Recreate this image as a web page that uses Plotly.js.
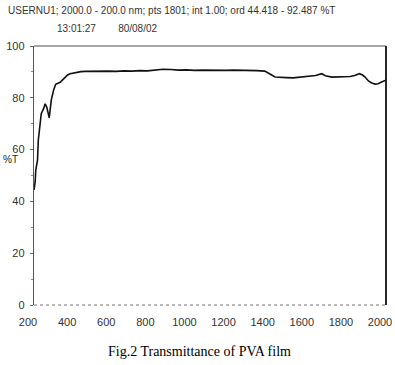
<!DOCTYPE html>
<html>
<head>
<meta charset="utf-8">
<script src="https://cdn.plot.ly/plotly-3.0.1.min.js"></script>
<style>
html,body{margin:0;padding:0;background:#fff;}
#chart{width:395px;height:365px;}
</style>
</head>
<body>
<div id="chart"></div>
<script>
var wavelength = [200,206,209,214,218,222,228,237,249,257,265,272,278,283,288,300,311,322,334,345,359,372,385,400,419,440,461,500,540,580,620,660,700,740,780,820,860,900,940,980,1020,1060,1100,1140,1180,1220,1260,1300,1340,1380,1400,1420,1433,1460,1490,1525,1560,1600,1640,1671,1690,1723,1760,1790,1816,1840,1864,1880,1893,1910,1927,1945,1960,1980,1995,2000];
var transmittance = [44.4,47.5,52,54,56,63.6,68.7,73.9,75.8,77.7,76.4,74,72.3,75.5,79,82.9,85.2,85.6,86,86.8,88,88.8,89.3,89.6,89.9,90.1,90.2,90.3,90.2,90.3,90.2,90.4,90.3,90.5,90.4,90.7,91.0,90.9,90.7,90.8,90.6,90.7,90.6,90.7,90.6,90.7,90.7,90.6,90.5,90.3,89.6,88.6,88.0,87.8,87.8,87.7,88.0,88.3,88.6,89.3,88.5,88.0,88.0,88.1,88.2,88.6,89.3,88.8,88.0,86.5,85.7,85.3,85.4,86.2,86.7,86.8];
var xTicks = [200,400,600,800,1000,1200,1400,1600,1800,2000];
var yTicks = [0,20,40,60,80,100];
var headerLine1 = "USERNU1; 2000.0 - 200.0 nm; pts 1801; int 1.00; ord 44.418 - 92.487 %T";
var headerLine2 = "13:01:27&nbsp;&nbsp;&nbsp;&nbsp;&nbsp;&nbsp;&nbsp;&nbsp;80/08/02";
var yLabel = "%T";
var caption = "Fig.2 Transmittance of PVA film";

var tickFont = {family: "'Liberation Sans Narrow', 'Liberation Sans', Arial, sans-serif", size: 11, color: '#333'};

var trace = {
  x: wavelength, y: transmittance, type: 'scatter', mode: 'lines',
  line: {color: '#111', width: 1.6}, hoverinfo: 'skip'
};

var layout = {
  width: 395, height: 365,
  margin: {l: 33.5, r: 9, t: 45.5, b: 60},
  paper_bgcolor: '#fff', plot_bgcolor: '#fff',
  showlegend: false,
  xaxis: {
    range: [200, 2000], tickvals: xTicks, ticktext: xTicks.map(String),
    showgrid: false, zeroline: false, showline: false,
    ticks: '', tickfont: tickFont, ticklabelshift: -6, ticklabelstandoff: 9
  },
  yaxis: {
    range: [0, 100], tickvals: yTicks, ticktext: yTicks.map(String),
    showgrid: false, zeroline: false, showline: true, linecolor: '#555', linewidth: 1.2,
    ticks: 'outside', ticklen: 3, tickcolor: '#666', tickwidth: 1,
    minor: {dtick: 10, ticks: 'outside', ticklen: 2, tickcolor: '#888'},
    tickfont: tickFont, ticklabelstandoff: 3
  },
  shapes: [
    {type: 'line', xref: 'paper', yref: 'paper', x0: 0, x1: 1, y0: 1, y1: 1, line: {color: '#888', width: 1.3}},
    {type: 'line', xref: 'paper', yref: 'paper', x0: 1, x1: 1, y0: 0, y1: 1, line: {color: '#111', width: 1.8}},
    {type: 'line', xref: 'paper', yref: 'paper', x0: 0, x1: 1, y0: 0, y1: 0, line: {color: '#777', width: 1.2, dash: 'dot'}}
  ],
  annotations: [
    {text: headerLine1, xref: 'paper', yref: 'paper', x: -0.08, y: 1.137, xanchor: 'left', yanchor: 'middle', showarrow: false,
     font: {family: tickFont.family, size: 10, color: '#333'}},
    {text: headerLine2, xref: 'paper', yref: 'paper', x: 0.06, y: 1.067, xanchor: 'left', yanchor: 'middle', showarrow: false,
     font: {family: tickFont.family, size: 10, color: '#333'}},
    {text: yLabel, xref: 'paper', yref: 'paper', x: -0.067, y: 0.56, xanchor: 'center', yanchor: 'middle', showarrow: false,
     font: {family: tickFont.family, size: 10, color: '#222'}},
    {text: caption, xref: 'paper', yref: 'paper', x: 0.47, y: -0.18, xanchor: 'center', yanchor: 'middle', showarrow: false,
     font: {family: "'Liberation Serif', 'Times New Roman', serif", size: 14, color: '#000'}}
  ]
};

Plotly.newPlot('chart', [trace], layout, {staticPlot: true, displayModeBar: false});
</script>
</body>
</html>
